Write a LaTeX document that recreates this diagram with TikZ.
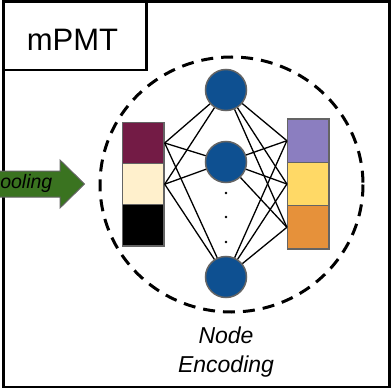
\documentclass[tikz,border=0pt]{standalone}
\usepackage{fontspec}
\setmainfont{Liberation Sans}
\definecolor{nnblue}{RGB}{14,80,145}
\definecolor{edgegray}{RGB}{100,100,100}
\definecolor{maroon}{RGB}{115,27,69}
\definecolor{cream}{RGB}{255,240,204}
\definecolor{lpurple}{RGB}{139,126,192}
\definecolor{lyellow}{RGB}{255,217,102}
\definecolor{lorange}{RGB}{230,145,58}
\definecolor{agreen}{RGB}{58,115,32}
\begin{document}
\begin{tikzpicture}[x=1pt,y=-1pt,
  neuron/.style={circle,fill=nnblue,draw=edgegray,line width=1.5pt,minimum size=41pt,inner sep=0pt},
  lcell/.style={rectangle,draw=edgegray,line width=1.5pt,minimum width=41.3pt,minimum height=41.5pt,inner sep=0pt},
  rcell/.style={rectangle,draw=edgegray,line width=1.5pt,minimum width=41.3pt,minimum height=43.3pt,inner sep=0pt},
  conn/.style={draw=black,line width=1.3pt},
  dotmark/.style={circle,fill=black,minimum size=2.6pt,inner sep=0pt}]
\useasboundingbox (0,0) rectangle (392,388);
% outer frame
\draw[line width=3pt] (3.3,1.5) rectangle (389,387);
\draw[line width=2.8pt] (3.3,1.5) rectangle (146.7,70);
\node[font=\fontsize{31}{36}\selectfont,anchor=base] (title) at (72.5,50) {mPMT};
% dashed ellipse
\draw[line width=3pt,dash pattern=on 12pt off 8pt] (231.5,184.5) ellipse [x radius=131.5, y radius=127.5];
% left bar
\node[lcell,fill=maroon] (L1) at (143.3,143) {};
\node[lcell,fill=cream] (L2) at (143.3,184.2) {};
\node[lcell,fill=black] (L3) at (143.3,225.4) {};
% right bar
\node[rcell,fill=lpurple] (R1) at (308.3,140.7) {};
\node[rcell,fill=lyellow] (R2) at (308.3,184) {};
\node[rcell,fill=lorange] (R3) at (308.3,227.3) {};
% neurons
\node[neuron] (N1) at (226,90) {};
\node[neuron] (N2) at (226,162) {};
\node[neuron] (N3) at (226,277) {};
\node[dotmark] (d1) at (226,193) {};
\node[dotmark] (d2) at (226,217) {};
\node[dotmark] (d3) at (226,242) {};
% connections
\foreach \l in {L1,L2}{
  \foreach \n in {N1,N2,N3}{
    \draw[conn] (\l.east) -- (\n);
  }
}
\foreach \n in {N1,N2,N3}{
  \foreach \r in {R1,R2,R3}{
    \draw[conn] (\n) -- (\r.west);
  }
}
% green arrow
\draw[fill=agreen,draw=edgegray,line width=1pt] (-5,171) -- (60,171) -- (60,160) -- (84.5,184) -- (60,208) -- (60,197) -- (-5,197) -- cycle;
\node[font=\fontsize{19.5}{23}\selectfont\itshape,anchor=base east,inner sep=0pt] (pool) at (52.5,189) {pooling};
% caption
\node[font=\fontsize{23}{27}\selectfont\itshape,anchor=base,inner sep=0pt] (cap1) at (226,343) {Node};
\node[font=\fontsize{23}{27}\selectfont\itshape,anchor=base,inner sep=0pt] (cap2) at (226,372) {Encoding};
\end{tikzpicture}
\end{document}
